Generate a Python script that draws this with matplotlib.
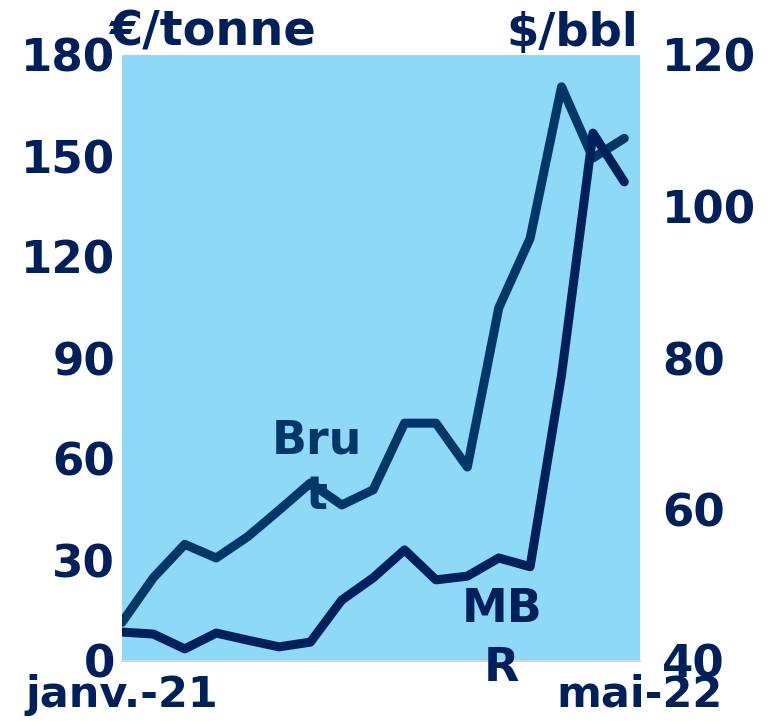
import numpy as np
from matplotlib import pyplot as plt

# monthly series, janv.-21 .. mai-22
months = ['janv.-21', 'févr.-21', 'mars-21', 'avr.-21', 'mai-21', 'juin-21', 'juil.-21',
          'août-21', 'sept.-21', 'oct.-21', 'nov.-21', 'déc.-21', 'janv.-22', 'févr.-22',
          'mars-22', 'avr.-22', 'mai-22']
mbr = [8.6, 8.0, 3.6, 8.3, 6.2, 4.2, 5.6, 18.1, 24.7, 33.0, 24.1, 25.2, 30.6, 28.0,
       84.9, 156.8, 142.3]            # €/tonne, left axis
brut = [45.1, 51.0, 55.4, 53.6, 56.4, 59.9, 63.5, 60.6, 62.6, 71.4, 71.4, 65.6, 86.6,
        95.8, 115.8, 106.4, 109.0]    # $/bbl, right axis

left_ticks = [0, 30, 60, 90, 120, 150, 180]
right_ticks = [40, 60, 80, 100, 120]

navy = '#00205b'
brut_col = '#003767'
bg = '#8ed9f7'

plt.rcParams['font.family'] = 'DejaVu Sans'
plt.rcParams['font.weight'] = 'bold'

fig = plt.figure(figsize=(7.71, 7.21), dpi=100)
ax = fig.add_axes([122/771, 60/721, 518/771, 606/721])
ax2 = ax.twinx()

x = np.arange(len(months))
ax.plot(x, mbr, color=navy, lw=6.5, solid_capstyle='round', solid_joinstyle='round', zorder=3)
ax2.plot(x, brut, color=brut_col, lw=6.5, solid_capstyle='round', solid_joinstyle='round', zorder=2)
# background on the twin axes so the MBR line stays on top
ax.patch.set_visible(False)
ax2.patch.set_visible(True)
ax2.set_facecolor(bg)
ax.set_zorder(ax2.get_zorder() + 1)

ax.set_xlim(0, 16.5)
ax.set_ylim(0, 180)
ax2.set_ylim(40, 120)
ax.set_yticks(left_ticks)
ax2.set_yticks(right_ticks)
ax.set_xticks([0, 16.5])
ax.set_xticklabels([months[0], months[-1]])

for a in (ax, ax2):
    for s in a.spines.values():
        s.set_visible(False)
    a.tick_params(length=0, colors=navy)
ax2.spines['bottom'].set_visible(True)
ax2.spines['bottom'].set_color('#d5d5d5')
ax2.spines['bottom'].set_linewidth(1.5)

ax.tick_params(axis='y', labelsize=32.5, pad=5)
ax2.tick_params(axis='y', labelsize=32.5, pad=16)
ax.tick_params(axis='x', labelsize=31, pad=9)
for lab in ax.get_yticklabels() + ax2.get_yticklabels() + ax.get_xticklabels():
    lab.set_fontweight('bold')

fig.text(110/771, 1 - 46/721, '€/tonne', fontsize=34.5, fontweight='bold', color=navy,
         ha='left', va='baseline')
fig.text(638/771, 1 - 46/721, '$/bbl', fontsize=33.5, fontweight='bold', color=navy,
         ha='right', va='baseline')

ax.text(6.2, 57, 'Bru\nt', fontsize=33, fontweight='bold', color=brut_col,
        ha='center', va='center', linespacing=1.3, zorder=1)
ax.text(12.1, 6.5, 'MB\nR', fontsize=33, fontweight='bold', color=navy,
        ha='center', va='center', linespacing=1.4, zorder=1)

plt.savefig('out.png', dpi=100)
